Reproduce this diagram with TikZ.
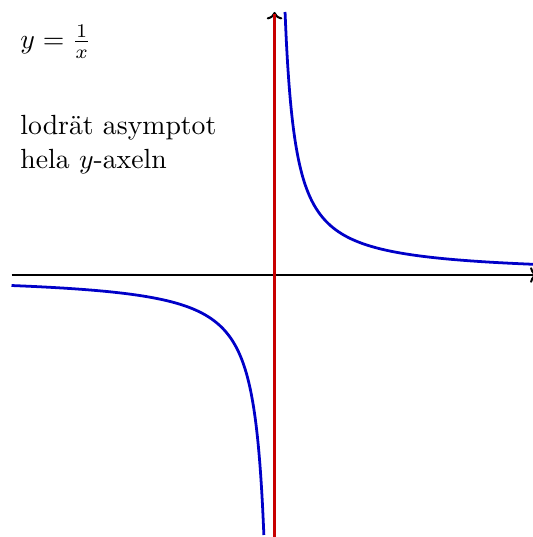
\documentclass[tikz,border=0pt]{standalone}
\usetikzlibrary{arrows.meta}
\definecolor{curveblue}{RGB}{0,0,200}
\definecolor{asymred}{RGB}{200,0,0}
\begin{document}
\begin{tikzpicture}[
  axis/.style={line width=1.1pt,->},
  curve/.style={curveblue,line width=1.5pt},
  asym/.style={asymred,line width=1.5pt},
  lbl/.style={font=\normalsize,scale=1.5,inner sep=0pt}
]
\useasboundingbox (-5.219,-4.981) rectangle (4.895,5.228);
\coordinate (xl) at (-5,0);
\coordinate (xr) at (5,0);
\coordinate (yb) at (0,-5);
\coordinate (yt) at (0,5);
\draw[axis] (xl) -- (xr);
\draw[axis] (yb) -- (yt);
\draw[curve] plot[domain=0.2:5,samples=200,smooth] (\x,{1/\x});
\draw[curve] plot[domain=-5:-0.2,samples=200,smooth] (\x,{1/\x});
\draw[asym] (yb) -- (0,4.97);
\node[lbl,anchor=base west] (eq) at (-4.84,4.30) {$y = \frac{1}{x}$};
\node[lbl,anchor=base west,align=left] (txt) at (-4.84,2.034) {lodrät asymptot\\hela $y$-axeln};
\end{tikzpicture}
\end{document}
